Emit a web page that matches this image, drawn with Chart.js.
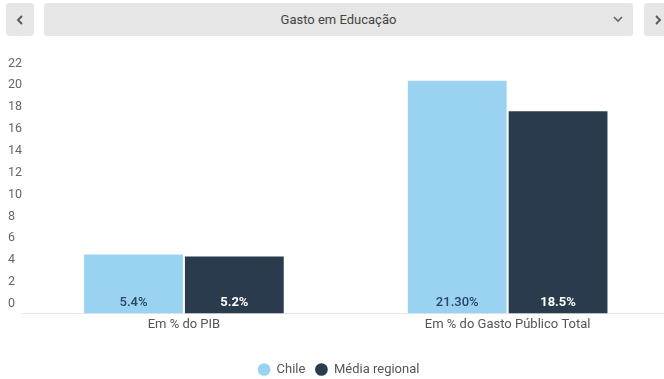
<!DOCTYPE html>
<html lang="pt">
<head>
<meta charset="utf-8">
<title>Gasto em Educação</title>
<script src="https://cdn.jsdelivr.net/npm/chart.js@4"></script>
<style>
  html, body { margin: 0; padding: 0; background: #fff; overflow: hidden; }
  body { width: 664px; height: 379px; position: relative; font-family: Roboto, sans-serif; }
  .btn, .select {
    position: absolute; top: 3px; height: 33px; background: #e6e6e6; border-radius: 3px;
    display: flex; align-items: center; justify-content: center; color: #555;
  }
  .btn.prev { left: 6px; width: 28px; }
  .btn.next { left: 644px; width: 28px; }
  .select { left: 44px; width: 589px; font-size: 13px; color: #444; }
  .select .caret { position: absolute; right: 10px; top: 12px; }
  #wrap { position: absolute; left: 0; top: 46px; width: 672px; height: 340px; }
</style>
</head>
<body>
<div class="btn prev"><svg width="8" height="10"><polyline points="6,1 2,5 6,9" fill="none" stroke="#555" stroke-width="1.8"/></svg></div>
<div class="select">Gasto em Educação<svg class="caret" width="10" height="8"><polyline points="1,2 5,6 9,2" fill="none" stroke="#666" stroke-width="1.6"/></svg></div>
<div class="btn next"><svg width="8" height="10"><polyline points="2,1 6,5 2,9" fill="none" stroke="#555" stroke-width="1.8"/></svg></div>
<div id="wrap"><canvas id="chart"></canvas></div>
<script>
const categories = ['Em % do PIB', 'Em % do Gasto Público Total'];
const chileValues = [5.4, 21.3];
const regionalValues = [5.2, 18.5];
const chileLabels = ['5.4%', '21.30%'];
const regionalLabels = ['5.2%', '18.5%'];
const yTicks = [0, 2, 4, 6, 8, 10, 12, 14, 16, 18, 20, 22];

const LIGHT = '#9ad3f1';
const DARK = '#2b3b4e';

// writes the value text at the foot of each bar
const barLabels = {
  id: 'barLabels',
  afterDatasetsDraw(chart) {
    const ctx = chart.ctx;
    ctx.save();
    ctx.textAlign = 'center';
    ctx.textBaseline = 'middle';
    chart.data.datasets.forEach((ds, i) => {
      chart.getDatasetMeta(i).data.forEach((bar, j) => {
        ctx.font = ds.labelWeight + ' 13px Roboto, sans-serif';
        ctx.fillStyle = ds.labelColor;
        ctx.fillText(ds.valueLabels[j], bar.x, bar.base - 11);
      });
    });
    ctx.restore();
  },
};

new Chart(document.getElementById('chart'), {
  type: 'bar',
  data: {
    labels: categories,
    datasets: [
      { label: 'Chile', data: chileValues, backgroundColor: LIGHT, valueLabels: chileLabels, labelColor: '#2a4560', labelWeight: '500' },
      { label: 'Média regional', data: regionalValues, backgroundColor: DARK, valueLabels: regionalLabels, labelColor: '#ffffff', labelWeight: 'bold' },
    ],
  },
  options: {
    responsive: true,
    maintainAspectRatio: false,
    animation: false,
    categoryPercentage: 0.623,
    barPercentage: 0.98,
    layout: { padding: { top: 27, left: 8, right: 2.5, bottom: 0 } },
    plugins: {
      tooltip: { enabled: false },
      legend: {
        position: 'bottom',
        labels: {
          usePointStyle: true,
          pointStyle: 'circle',
          boxWidth: 12,
          boxHeight: 9,
          padding: 10,
          color: '#555',
          font: { family: 'Roboto', size: 13 },
        },
      },
    },
    scales: {
      x: {
        grid: { display: false, drawTicks: false },
        border: { display: true, color: '#e8e8e8' },
        ticks: { color: '#555', padding: 4, font: { family: 'Roboto', size: 13 } },
        afterFit(scale) { scale.height += 16; },
      },
      y: {
        min: 0,
        max: 22,
        grid: { display: false, drawTicks: false },
        border: { display: false },
        afterBuildTicks(scale) { scale.ticks = yTicks.map(v => ({ value: v })); },
        ticks: {
          color: '#666',
          padding: 0,
          crossAlign: 'far',
          labelOffset: -9.5,
          font: { family: 'Roboto', size: 12.5 },
        },
      },
    },
  },
  plugins: [barLabels],
});
</script>
</body>
</html>
